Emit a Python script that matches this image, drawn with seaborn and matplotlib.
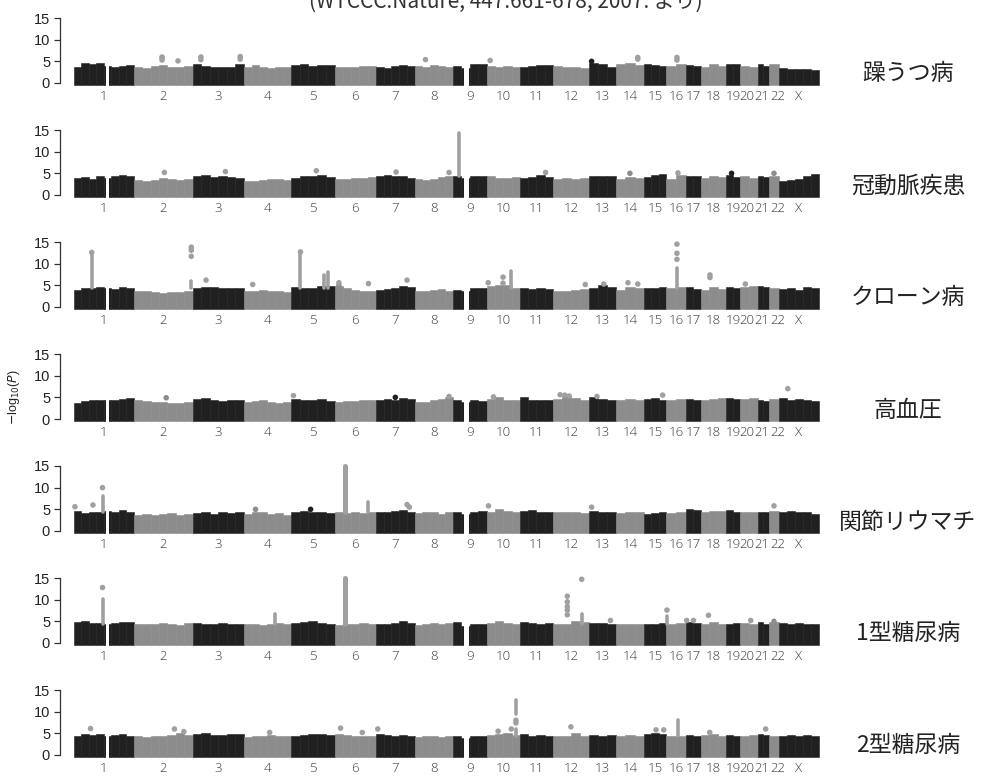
import numpy as np
import matplotlib
matplotlib.use("Agg")
import matplotlib.pyplot as plt
import matplotlib.transforms as mtransforms
import seaborn as sns

# ---------------- data ----------------
chrom_labels = ['1', '2', '3', '4', '5', '6', '7', '8', '9', '10', '11', '12',
                '13', '14', '15', '16', '17', '18', '19', '20', '21', '22', 'X']
chrom_size = [60, 59, 51, 47, 44, 41, 39, 38, 34, 33, 33, 36,
              27, 28, 22, 20, 15, 25, 14, 18, 11, 10, 40]
gap_chrom = ['1', '9']
gap_start = [0.54, 0.34]
gap_end = [0.58, 0.47]

diseases = ['躁うつ病', '冠動脈疾患', 'クローン病', '高血圧', '関節リウマチ', '1型糖尿病', '2型糖尿病']
y_ticks = [0, 5, 10, 15]
source_text = '(WTCCC:Nature, 447:661-678, 2007. より)'

# upper envelope of the dense point cloud, per chromosome (-log10 P)
tops_bd = [[3.8, 4.6, 4.3, 4.7, 3.9, 3.6, 4.0, 4.2], [3.7, 3.5, 3.9, 4.2, 3.6, 3.8, 4.0],
           [4.3, 4.0, 3.8, 3.6, 3.8, 4.4], [3.7, 4.1, 3.6, 3.5, 3.8, 3.7], [4.1, 4.3, 4.0, 4.2, 4.1],
           [3.7, 3.6, 3.8, 4.0, 3.9], [3.8, 3.4, 3.9, 4.1, 4.0], [3.9, 3.6, 4.2, 4.0, 3.7],
           [3.9, 3.5, 4.3, 4.4], [4.0, 3.7, 3.9, 3.6], [3.6, 3.9, 4.2, 4.1], [3.9, 3.7, 3.8, 3.5],
           [4.6, 4.3, 3.8], [4.3, 4.6, 4.2], [4.4, 4.1, 4.0], [4.0, 4.4], [4.2, 4.0],
           [3.8, 4.3, 3.9], [4.3, 4.4], [4.0, 3.8], [4.4, 3.9], [4.3], [3.4, 3.2, 3.3, 3.3, 3.1]]
tops_cad = [[3.9, 4.2, 3.8, 4.4, 4.0, 4.5, 4.7, 4.3], [3.4, 3.3, 3.5, 3.9, 3.6, 3.4, 3.8],
            [4.3, 4.6, 4.2, 4.5, 4.1, 3.9], [3.3, 3.2, 3.4, 3.6, 3.8, 3.5], [4.0, 4.5, 4.3, 4.6, 4.2],
            [3.6, 3.7, 3.9, 4.0, 4.2], [4.3, 4.6, 4.4, 4.5, 4.0], [3.6, 3.5, 3.8, 4.2, 4.4],
            [4.3, 4.0, 4.4, 4.5], [4.4, 3.9, 4.0, 4.1], [3.9, 4.1, 4.6, 4.2], [3.7, 3.9, 3.8, 4.0],
            [4.5, 4.4, 4.3], [3.6, 4.1, 3.9], [4.2, 4.7, 4.9], [3.8, 4.7], [4.5, 4.3],
            [4.0, 4.4, 4.1], [4.6, 4.2], [4.3, 4.0], [4.4, 4.2], [4.5], [3.2, 3.4, 3.6, 4.3, 4.8]]
tops_cd = [[4.0, 4.3, 4.5, 4.6, 4.4, 4.2, 4.6, 4.4], [3.7, 3.6, 3.4, 3.3, 3.4, 3.5, 3.6],
           [4.5, 4.6, 4.7, 4.4, 4.5, 4.3], [3.7, 3.6, 3.9, 3.6, 3.7, 3.5], [4.6, 4.5, 4.3, 4.8, 4.9],
           [4.8, 4.3, 3.9, 3.6, 3.8], [4.0, 4.2, 4.5, 4.8, 4.6], [3.6, 3.7, 3.9, 4.1, 3.6],
           [4.0, 3.8, 4.3, 4.4], [4.8, 5.0, 5.1, 4.4], [4.3, 4.2, 4.4, 4.1], [3.7, 3.8, 3.9, 4.2],
           [4.4, 5.0, 4.6], [3.9, 4.6, 4.4], [4.5, 4.3, 4.7], [4.3, 4.6], [4.6, 4.2],
           [4.0, 4.6, 4.2], [4.7, 4.4], [4.6, 4.8], [4.9, 4.6], [4.5], [4.2, 4.5, 4.0, 4.6, 4.3]]
tops_ht = [[3.8, 4.2, 4.3, 4.4, 4.5, 4.3, 4.6, 4.8], [4.5, 4.1, 4.0, 3.9, 3.8, 3.7, 4.0],
           [4.6, 4.8, 4.4, 4.2, 4.3, 4.5], [3.9, 4.1, 4.3, 4.0, 3.8, 3.9], [4.7, 4.5, 4.4, 4.6, 4.2],
           [4.0, 4.2, 4.1, 4.3, 4.4], [4.4, 4.7, 4.5, 4.8, 4.6], [4.0, 3.9, 4.3, 4.6, 5.0],
           [4.5, 4.0, 4.4, 4.2], [4.6, 5.0, 4.4, 4.3], [5.0, 4.4, 4.3, 4.5], [4.6, 5.3, 4.8, 4.4],
           [5.0, 4.6, 4.4], [4.3, 4.6, 4.4], [4.6, 4.9, 4.5], [4.4, 4.7], [4.7, 4.5],
           [4.4, 4.7, 4.9], [4.8, 4.6], [4.6, 4.9], [4.3, 4.1], [4.6], [4.9, 4.4, 4.6, 4.3, 4.2]]
tops_ra = [[4.7, 4.2, 4.4, 4.3, 4.6, 4.5, 4.8, 4.4], [3.8, 4.0, 3.7, 3.9, 4.1, 3.8, 4.0],
           [4.2, 4.3, 4.0, 4.4, 4.2, 4.3], [3.9, 4.4, 4.3, 4.0, 4.1, 3.8], [4.3, 4.6, 4.4, 4.5, 4.2],
           [4.3, 4.2, 4.4, 4.1, 4.5], [4.5, 4.4, 4.7, 4.9, 4.5], [4.2, 4.3, 4.5, 4.0, 4.4],
           [4.4, 4.0, 4.4, 4.6], [4.3, 5.0, 4.6, 4.4], [4.6, 4.9, 4.4, 4.5], [4.3, 4.4, 4.5, 4.2],
           [4.6, 4.5, 4.4], [4.2, 4.3, 4.4], [4.0, 4.2, 4.3], [4.2, 4.5], [5.0, 4.8],
           [4.4, 4.6, 4.7], [4.9, 4.5], [4.3, 4.4], [4.5, 4.3], [4.6], [4.4, 4.7, 4.5, 4.3, 4.0]]
tops_t1d = [[4.8, 5.0, 4.6, 4.7, 4.4, 4.6, 4.9, 4.8], [4.3, 4.5, 4.4, 4.6, 4.5, 4.2, 4.6],
            [4.7, 4.5, 4.4, 4.6, 4.5, 4.3], [4.4, 4.5, 4.2, 4.5, 4.6, 4.3], [4.6, 4.8, 5.0, 4.7, 4.5],
            [4.2, 4.5, 4.4, 4.6, 4.3], [4.3, 4.5, 4.6, 5.0, 4.6], [4.2, 4.4, 4.6, 4.5, 4.6],
            [4.8, 4.0, 4.5, 4.4], [4.6, 5.0, 4.7, 4.5], [4.8, 4.6, 4.4, 4.7], [4.5, 4.4, 5.0, 4.8],
            [4.7, 4.6, 4.5], [4.5, 4.3, 4.4], [4.3, 4.4, 4.6], [4.3, 4.6], [4.8, 4.6],
            [4.4, 4.9, 4.5], [4.3, 4.6], [4.7, 4.5], [4.9, 4.4], [4.8], [4.6, 4.4, 4.7, 4.3, 4.4]]
tops_t2d = [[4.4, 4.8, 4.6, 4.9, 4.5, 4.6, 4.8, 4.5], [4.3, 4.2, 4.5, 4.4, 4.6, 5.0, 4.7],
            [4.8, 5.0, 4.6, 4.7, 4.9, 4.8], [4.2, 4.4, 4.3, 4.6, 4.4, 4.3], [4.5, 4.7, 4.8, 4.9, 4.6],
            [4.8, 4.6, 4.4, 4.5, 4.3], [4.9, 4.7, 4.5, 4.6, 4.4], [4.2, 4.3, 4.4, 4.2, 4.3],
            [4.4, 4.0, 4.5, 4.3], [4.6, 4.9, 5.0, 4.6], [4.8, 4.5, 4.6, 4.4], [4.3, 4.4, 5.0, 4.5],
            [4.7, 4.5, 4.6], [4.4, 4.6, 4.5], [4.9, 5.0, 4.8], [4.3, 4.5], [4.6, 4.5],
            [4.6, 4.8, 4.4], [4.7, 4.5], [4.4, 4.6], [4.9, 4.6], [4.5], [4.4, 4.6, 4.3, 4.7, 4.5]]

# isolated points: chromosome, relative position within chromosome, -log10 P
dot_chr_bd = ['2', '2', '2', '2', '3', '3', '3', '3', '8', '10', '13', '14', '14', '16', '16']
dot_pos_bd = [0.48, 0.48, 0.48, 0.75, 0.16, 0.16, 0.93, 0.93, 0.28, 0.10, 0.10, 0.78, 0.78, 0.55, 0.55]
dot_val_bd = [5.3, 5.8, 6.0, 5.1, 5.4, 6.0, 5.5, 6.1, 5.4, 5.2, 5.0, 5.5, 5.9, 5.3, 5.9]

dot_chr_cad = ['2', '3', '5', '7', '8', '11', '14', '16', '19', '22']
dot_pos_cad = [0.52, 0.64, 0.58, 0.52, 0.90, 0.78, 0.50, 0.60, 0.40, 0.50]
dot_val_cad = [5.2, 5.4, 5.6, 5.3, 5.2, 5.2, 5.0, 5.1, 5.0, 5.0]

dot_chr_cd = ['1', '2', '2', '2', '3', '4', '5', '6', '6', '6', '7', '10', '10', '10',
              '12', '13', '14', '14', '16', '16', '16', '18', '18', '20']
dot_pos_cd = [0.30, 0.975, 0.975, 0.975, 0.26, 0.19, 0.22, 0.10, 0.10, 0.82, 0.80, 0.04, 0.49, 0.49,
              0.90, 0.55, 0.43, 0.78, 0.55, 0.55, 0.55, 0.36, 0.36, 0.30]
dot_val_cd = [12.6, 11.7, 13.1, 13.8, 6.2, 5.2, 12.7, 5.0, 5.6, 5.4, 6.2, 5.6, 5.5, 6.9,
              5.2, 5.3, 5.6, 5.3, 11.0, 12.4, 14.5, 6.8, 7.4, 5.3]

dot_chr_ht = ['2', '5', '7', '8', '10', '12', '12', '12', '13', '15', 'X']
dot_pos_ht = [0.55, 0.06, 0.50, 0.90, 0.20, 0.20, 0.33, 0.45, 0.30, 0.85, 0.22]
dot_val_ht = [4.9, 5.4, 5.0, 5.2, 5.1, 5.6, 5.5, 5.3, 5.2, 5.5, 7.0]

dot_chr_ra = ['1', '1', '1', '4', '5', '7', '7', '10', '13', '22']
dot_pos_ra = [0.02, 0.32, 0.48, 0.25, 0.45, 0.80, 0.86, 0.05, 0.10, 0.50]
dot_val_ra = [5.6, 6.0, 10.0, 5.0, 5.0, 6.1, 5.5, 5.8, 5.5, 5.8]

dot_chr_t1d = ['1', '12', '12', '12', '12', '12', '12', '13', '16', '17', '17', '18', '20', '22']
dot_pos_t1d = [0.48, 0.40, 0.40, 0.40, 0.40, 0.40, 0.80, 0.80, 0.05, 0.05, 0.50, 0.30, 0.60, 0.50]
dot_val_t1d = [12.8, 6.5, 7.6, 8.4, 9.5, 10.8, 14.7, 5.2, 7.6, 5.2, 5.2, 6.4, 5.2, 5.0]

dot_chr_t2d = ['1', '2', '2', '4', '6', '6', '7', '10', '10', '10', '10', '12', '15', '15', '18', '21']
dot_pos_t2d = [0.28, 0.69, 0.85, 0.55, 0.14, 0.67, 0.05, 0.34, 0.74, 0.88, 0.88, 0.50, 0.55, 0.90, 0.35, 0.70]
dot_val_t2d = [6.1, 6.0, 5.4, 5.2, 6.2, 5.2, 6.0, 5.5, 6.0, 7.4, 8.0, 6.5, 5.8, 5.8, 5.2, 6.0]

# dense vertical runs of associated SNPs: chromosome, relative position, lowest, highest
col_chr_bd, col_pos_bd, col_lo_bd, col_hi_bd = [], [], [], []
col_chr_cad, col_pos_cad, col_lo_cad, col_hi_cad = ['9'], [0.19], [4.5], [14.4]
col_chr_cd = ['1', '2', '5', '5', '5', '10', '16']
col_pos_cd = [0.30, 0.975, 0.22, 0.75, 0.85, 0.74, 0.55]
col_lo_cd = [4.5, 4.5, 4.5, 4.5, 4.5, 4.5, 4.5]
col_hi_cd = [12.0, 6.0, 12.0, 7.3, 8.0, 8.2, 9.0]
col_chr_ht, col_pos_ht, col_lo_ht, col_hi_ht = [], [], [], []
col_chr_ra = ['1', '6', '6']
col_pos_ra = [0.48, 0.24, 0.82]
col_lo_ra = [4.5, 4.5, 4.5]
col_hi_ra = [8.1, 15.0, 6.6]
col_chr_t1d = ['1', '4', '6', '12', '16']
col_pos_t1d = [0.48, 0.66, 0.24, 0.80, 0.05]
col_lo_t1d = [4.5, 4.5, 4.5, 4.5, 4.5]
col_hi_t1d = [10.2, 6.8, 15.0, 6.7, 6.2]
col_chr_t2d = ['10', '10', '16']
col_pos_t2d = [0.88, 0.88, 0.62]
col_lo_t2d = [4.5, 9.4, 4.5]
col_hi_t2d = [6.0, 12.6, 8.0]

panels = [
    (tops_bd, dot_chr_bd, dot_pos_bd, dot_val_bd, col_chr_bd, col_pos_bd, col_lo_bd, col_hi_bd),
    (tops_cad, dot_chr_cad, dot_pos_cad, dot_val_cad, col_chr_cad, col_pos_cad, col_lo_cad, col_hi_cad),
    (tops_cd, dot_chr_cd, dot_pos_cd, dot_val_cd, col_chr_cd, col_pos_cd, col_lo_cd, col_hi_cd),
    (tops_ht, dot_chr_ht, dot_pos_ht, dot_val_ht, col_chr_ht, col_pos_ht, col_lo_ht, col_hi_ht),
    (tops_ra, dot_chr_ra, dot_pos_ra, dot_val_ra, col_chr_ra, col_pos_ra, col_lo_ra, col_hi_ra),
    (tops_t1d, dot_chr_t1d, dot_pos_t1d, dot_val_t1d, col_chr_t1d, col_pos_t1d, col_lo_t1d, col_hi_t1d),
    (tops_t2d, dot_chr_t2d, dot_pos_t2d, dot_val_t2d, col_chr_t2d, col_pos_t2d, col_lo_t2d, col_hi_t2d),
]

# ---------------- styling ----------------
sns.set_style('white')
plt.rcParams['font.family'] = ['Liberation Sans', 'DejaVu Sans']

DARK = '#202020'
GREY = '#8c8c8c'
HIT = '#a0a0a0'
W, H = 988, 783
fig = plt.figure(figsize=(W / 100, H / 100), dpi=100)

starts = np.concatenate([[0.0], np.cumsum(chrom_size)[:-1]])
centers = starts + np.array(chrom_size) / 2.0
chr_index = {c: i for i, c in enumerate(chrom_labels)}
chr_color = [DARK if i % 2 == 0 else GREY for i in range(len(chrom_labels))]
# small horizontal nudges (points) so that the tightly packed labels do not collide
label_nudge = {'20': -1.5, '21': -1.2, '22': 2.4}


def xpos(c, p):
    i = chr_index[c]
    return starts[i] + p * chrom_size[i]


left_px, right_px = 73.7, 819.0
for k, (tops, dch, dpo, dva, cch, cpo, clo, chi) in enumerate(panels):
    y0 = 83.0 + 112.0 * k
    ax = fig.add_axes([left_px / W, 1 - y0 / H, (right_px - left_px) / W, 65.0 / H])
    ax.set_xlim(0, sum(chrom_size))
    ax.set_ylim(0, 15)

    # dense cloud
    bx, bh, bw, bc = [], [], [], []
    for i, prof in enumerate(tops):
        n = len(prof)
        w = chrom_size[i] / n
        for j, h in enumerate(prof):
            bx.append(starts[i] + (j + 0.5) * w)
            bh.append(h)
            bw.append(w)
            bc.append(chr_color[i])
    bh = np.array(bh)
    ax.bar(bx, bh + 0.35, bottom=-0.35, width=bw, color=bc, edgecolor=bc,
           linewidth=0.4, clip_on=False, zorder=2)
    # centromere gaps
    for g, s, e in zip(gap_chrom, gap_start, gap_end):
        a, b = xpos(g, s), xpos(g, e)
        ax.bar([(a + b) / 2], [6.5], bottom=-0.6, width=b - a, color='white',
               linewidth=0, clip_on=False, zorder=3)
    # columns of hits
    if len(cch):
        cx = [xpos(c, p) for c, p in zip(cch, cpo)]
        lw = [3.6 if (hi - lo) > 10 else 2.6 for lo, hi in zip(clo, chi)]
        lc = ax.vlines(cx, clo, chi, colors=HIT, linewidth=lw, zorder=4, clip_on=False)
        lc.set_capstyle('round')
    # single dots
    if len(dch):
        dx = [xpos(c, p) for c, p in zip(dch, dpo)]
        dcol = [HIT if v > 5 else chr_color[chr_index[c]] for c, v in zip(dch, dva)]
        sns.scatterplot(x=dx, y=dva, c=dcol, s=16, edgecolor='none', ax=ax,
                        clip_on=False, zorder=5, legend=False)

    # axes decoration
    for side in ['top', 'right', 'bottom']:
        ax.spines[side].set_visible(False)
    ax.spines['left'].set_position(('outward', 10))
    ax.spines['left'].set_bounds(0, 15)
    ax.spines['left'].set_color('#333333')
    ax.spines['left'].set_linewidth(0.9)
    ax.set_yticks(y_ticks)
    ax.set_yticklabels([str(t) for t in y_ticks], fontsize=10.5, color='#222222')
    ax.tick_params(axis='y', direction='out', length=4, width=0.9, color='#333333', pad=3, left=True)
    ax.set_xticks(centers)
    ax.set_xticklabels(chrom_labels, fontsize=9.5, color='#3a3a3a',
                       family=['Open Sans', 'DejaVu Sans'], fontweight='light')
    ax.tick_params(axis='x', length=0, pad=5)
    for lab in ax.get_xticklabels():
        dxp = label_nudge.get(lab.get_text(), 0.0)
        if dxp:
            off = mtransforms.ScaledTranslation(dxp / 72.0, 0, fig.dpi_scale_trans)
            lab.set_transform(lab.get_transform() + off)
    ax.patch.set_alpha(0)

    fig.text(908 / W, 1 - (y0 - 9) / H, diseases[k], ha='center', va='center',
             fontsize=16.5, family=['Noto Sans CJK JP', 'DejaVu Sans'], color='#222222')

fig.text(14 / W, 1 - 397 / H, r'$-$log$_{10}$($P$)', rotation=90, ha='center', va='center',
         fontsize=9, color='#222222')
fig.text(506 / W, 1 - 8 / H, source_text, ha='center', va='baseline', fontsize=15,
         family=['Noto Sans CJK JP', 'DejaVu Sans'], color='#333333')

fig.savefig('out.png', dpi=100, facecolor='white')
